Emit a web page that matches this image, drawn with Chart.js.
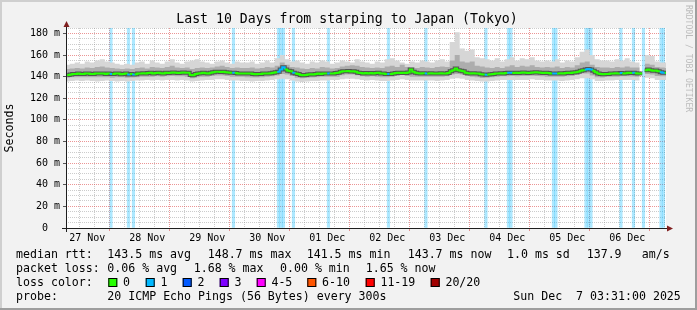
<!DOCTYPE html>
<html>
<head>
<meta charset="utf-8">
<script src="https://cdn.jsdelivr.net/npm/chart.js@4/dist/chart.umd.min.js"></script>
<style>
html, body { margin: 0; padding: 0; background: #f2f2f2; }
canvas { display: block; }
</style>
</head>
<body>
<canvas id="graph" width="697" height="310" style="width:697px;height:310px"></canvas>
<script>
// time axis: hours since 27 Nov 00:00, window 27 Nov 03:31 .. 07 Dec 03:31
const startHour = 3 + 31 / 60;
const endHour = startHour + 240;
const yMax = 185;
const dayLabels = ['27 Nov', '28 Nov', '29 Nov', '30 Nov', '01 Dec', '02 Dec', '03 Dec', '04 Dec', '05 Dec', '06 Dec'];

// median rtt (ms), hourly bins starting 27 Nov 04:00
const medianStart = 4;
const medianRtt = [
  141.5, 142.0, 142.5, 142.5, 142.8, 142.5, 142.5, 143.0, 142.8, 142.5, 142.5, 143.0, 142.8, 143.0, 143.0, 142.5, 142.8, 142.5, 142.5, 143.0, 142.8, 142.2, 142.5, 142.8,
  142.0, 142.5, 142.0, 142.3, 142.8, 143.0, 143.2, 143.0, 143.3, 143.5, 143.0, 143.3, 143.5, 143.2, 143.0, 143.5, 143.3, 143.5, 143.8, 143.5, 143.3, 143.5, 143.8, 143.5,
  143.5, 141.5, 141.3, 142.5, 143.0, 143.2, 143.5, 143.2, 143.0, 143.5, 144.0, 144.5, 144.5, 144.3, 144.5, 144.0, 143.8, 143.5, 143.5, 143.3, 143.0, 142.8, 143.0, 142.8,
  143.0, 142.8, 142.5, 142.3, 142.5, 142.5, 142.8, 143.0, 143.0, 143.2, 143.5, 144.0, 144.5, 146.5, 148.7, 146.5, 145.5, 145.0, 143.5, 143.0, 142.5, 141.5, 141.3, 141.5,
  142.0, 142.3, 142.0, 142.5, 142.8, 142.5, 142.8, 143.0, 143.0, 142.8, 143.0, 143.3, 143.5, 144.5, 145.0, 145.0, 145.3, 144.8, 145.0, 144.5, 143.5, 143.3, 143.0, 143.3,
  143.0, 143.3, 143.0, 143.3, 143.5, 143.0, 142.8, 142.5, 142.5, 142.5, 143.0, 143.3, 143.5, 143.3, 143.5, 143.3, 143.8, 146.5, 144.5, 143.5, 143.2, 143.0, 143.2, 142.8,
  143.0, 143.2, 143.0, 142.8, 143.0, 143.2, 143.0, 143.0, 143.3, 145.0, 146.0, 147.5, 146.0, 145.5, 145.0, 143.5, 143.2, 143.0, 143.2, 143.0, 142.8, 142.3, 142.0, 141.8,
  142.0, 142.2, 142.5, 142.8, 143.0, 143.2, 143.0, 143.3, 143.5, 143.5, 143.3, 143.5, 143.3, 143.5, 143.8, 143.5, 143.3, 143.5, 143.8, 144.0, 143.8, 143.5, 143.3, 143.5,
  143.3, 143.0, 143.0, 142.8, 143.0, 143.2, 143.0, 143.3, 143.5, 143.3, 143.8, 144.0, 144.5, 145.5, 146.0, 146.5, 147.0, 146.5, 145.5, 144.0, 143.0, 142.5, 142.3, 142.5,
  142.5, 142.8, 143.0, 143.2, 143.0, 143.3, 143.0, 143.2, 143.5, 143.3, 143.5, 143.2, 143.0, 142.8, null, 146.0, 146.5, 146.0, 145.5, 145.8, 145.0, 144.0, 143.5, 143.7
];
// hourly bins (index into medianRtt) with 1 of 20 pings lost
const lossBins = [17, 24, 26, 66, 84, 85, 86, 90, 104, 128, 143, 167, 176, 177, 194, 195, 207, 208, 209, 221, 226, 230, 237, 238];

// smoke (ping spread, ms), 2-hour bins starting 27 Nov 03:00
const smokeStart = 3;
const smokeMax = [
  151, 152, 153, 152, 154, 153, 155, 156, 154, 153, 152, 151,
  152, 151, 153, 154, 152, 155, 153, 152, 154, 156, 153, 152,
  154, 155, 156, 154, 153, 152, 154, 155, 153, 152, 154, 153,
  153, 154, 152, 153, 155, 153, 157, 160, 156, 154, 155, 153,
  152, 154, 153, 155, 154, 152, 153, 155, 154, 153, 156, 154,
  153, 152, 154, 153, 156, 157, 155, 153, 152, 154, 153, 155,
  154, 153, 155, 156, 154, 172, 181, 166, 164, 165, 158, 157,
  156, 155, 157, 154, 156, 158, 155, 157, 156, 158, 155, 154,
  155, 154, 156, 153, 155, 154, 158, 163, 165, 160, 156, 155,
  155, 154, 156, 155, 157, 154, 153, null, 160, 159, 154, 153,
  153
];
const smokeUp = [
  147, 147.5, 148, 147.5, 148.5, 148, 149, 149.5, 148.5, 148, 147.5, 147,
  147.5, 147, 148, 148.5, 147.5, 149, 148.5, 148, 149, 150, 148.5, 148,
  148.5, 147, 148, 148.5, 148, 148.5, 149.5, 150, 149, 148, 148.5, 148,
  148, 148.5, 147.5, 148, 149, 148.5, 150, 153, 151, 149, 148.5, 147.5,
  147, 148, 147.5, 149, 148.5, 147.5, 148, 149.5, 150, 150.5, 150, 149,
  148.5, 148, 148.5, 148, 149.5, 150, 149, 151, 149, 148.5, 148, 149,
  148.5, 148, 149, 149.5, 149, 155, 160, 154, 153, 154, 150, 149.5,
  148.5, 148, 149, 148, 149.5, 150.5, 149, 150, 149.5, 150.5, 149, 148.5,
  149, 148.5, 149.5, 148, 149, 148.5, 150.5, 153, 154, 151, 149, 148.5,
  148.5, 148, 149, 148.5, 149.5, 148.5, 148.5, null, 152, 151, 149, 148.5,
  148
];
const smokeDown = [
  139, 139.5, 139.5, 139.5, 139.5, 139.5, 139.5, 139.5, 139.5, 139, 139.5, 139.5,
  139, 139.3, 139.5, 140, 140, 140, 140.3, 140, 140.3, 140.5, 140.3, 140.3,
  139.8, 138.5, 139.5, 140, 140, 140.5, 141, 141, 140.5, 140, 139.8, 139.8,
  139.5, 139.3, 139.3, 139.5, 140, 140.3, 141, 142.5, 142, 140.5, 139, 138.5,
  139, 139.3, 139.5, 139.8, 140, 140, 140, 141.3, 142, 142, 141.3, 140.3,
  140, 140.3, 140, 139.5, 139.5, 140, 140.5, 141.5, 140.5, 140, 140, 139.8,
  140, 140, 139.8, 140, 140.3, 142, 142.5, 142, 140.5, 140, 139.5, 138.8,
  139, 139.5, 140, 140.3, 140.3, 140.5, 140.3, 140.5, 140.5, 140.8, 140.5, 140.3,
  140, 139.8, 140, 140, 140.3, 140.5, 141.5, 143, 143, 141, 139.5, 139.3,
  139.8, 140, 140, 140.3, 140.3, 140.2, 139.8, null, 142.5, 142, 140.5, 140.3,
  140.3
];
const smokeMin = [
  135.5, 136, 136.5, 136, 136.5, 136, 135.5, 136, 136.5, 136, 135.5, 136,
  135.5, 136, 136.5, 136.5, 137, 136.5, 137, 136.5, 137, 137, 136.5, 137,
  136.5, 135.5, 136, 136.5, 137, 137, 137.5, 137.5, 137, 136.5, 136.5, 136,
  136, 135.5, 136, 136, 136.5, 137, 137.5, 138, 137.5, 136.5, 135.5, 135,
  135.5, 136, 136, 136.5, 136.5, 137, 137, 137.5, 138, 138, 137.5, 137,
  136.5, 137, 136.5, 136, 136, 136.5, 137, 137.5, 137, 136.5, 136.5, 136.5,
  136.5, 136.5, 136, 136.5, 137, 138, 138.5, 138, 137, 136.5, 136, 135.5,
  135.5, 136, 136.5, 137, 137, 137, 137, 137, 137, 137.5, 137, 137,
  136.5, 136.5, 136.5, 136, 136.5, 137, 137.5, 138.5, 138.5, 137.5, 136, 136,
  136.5, 136.5, 137, 137, 137, 137, 136.5, null, 139, 138.5, 137, 137,
  137
];

const title = 'Last 10 Days from starping to Japan (Tokyo)';
const rttStats = ['143.5 ms avg', '148.7 ms max', '141.5 ms min', '143.7 ms now', '1.0 ms sd', '137.9', 'am/s'];
const lossStats = ['0.06 % avg', '1.68 % max', '0.00 % min', '1.65 % now'];
const lossColors = [['0', '#26ff00'], ['1', '#00b8ff'], ['2', '#0059ff'], ['3', '#7e00ff'], ['4-5', '#ff00ff'], ['6-10', '#ff5500'], ['11-19', '#ff0000'], ['20/20', '#a10000']];
const probeText = '20 ICMP Echo Pings (56 Bytes) every 300s';
const stampText = 'Sun Dec  7 03:31:00 2025';

const mono = '"DejaVu Sans Mono", monospace';
const minorGrid = 'rgba(143,143,143,0.45)';
const majorGrid = 'rgba(222,79,79,0.6)';
const lossSet = new Set(lossBins);

// rrdtool style staircase: every bin is flat over its whole width
const stepPoints = (vals, t0, w) => {
    const pts = [];
    vals.forEach((v, i) => {
        if (v === null) {
            pts.push({x: t0 + (i + 0.5) * w, y: null, bin: i});
            return;
        }
        pts.push({x: t0 + i * w, y: v, bin: i}, {x: t0 + (i + 1) * w, y: v, bin: i});
    });
    return pts;
};

const medianPts = stepPoints(medianRtt, medianStart, 1);
const lossBars = medianRtt.map((v, i) => ({x: medianStart + i + 0.5, y: lossSet.has(i) ? yMax : null}));
const sixHourTicks = [];
for (let h = 6; h <= endHour; h += 6) sixHourTicks.push(h);

const band = (vals, extra) => Object.assign({
    data: stepPoints(vals, smokeStart, 2),
    borderWidth: 0,
    borderColor: 'transparent',
    pointRadius: 0,
    fill: false
}, extra);

const decor = {
    id: 'decor',
    beforeDraw(chart) {
        const {ctx, width, height, chartArea: a} = chart;
        ctx.save();
        ctx.fillStyle = '#f2f2f2';
        ctx.fillRect(0, 0, width, height);
        ctx.fillStyle = '#cfcfcf';
        ctx.fillRect(0, 0, width, 2);
        ctx.fillRect(0, 0, 2, height);
        ctx.fillStyle = '#9e9e9e';
        ctx.fillRect(0, height - 2, width, 2);
        ctx.fillRect(width - 2, 0, 2, height);
        ctx.fillStyle = '#ffffff';
        ctx.fillRect(a.left, a.top, a.right - a.left, a.bottom - a.top);
        ctx.restore();
    },
    afterDraw(chart) {
        const {ctx, chartArea: a} = chart;
        ctx.save();
        // axes + arrows
        ctx.fillStyle = '#1f1f1f';
        ctx.fillRect(a.left, a.top - 3, 1, a.bottom - a.top + 7);
        ctx.fillRect(a.left - 4, a.bottom, a.right - a.left + 8, 1);
        ctx.fillStyle = '#801f1f';
        ctx.beginPath();
        ctx.moveTo(a.left + 0.5, a.top - 7);
        ctx.lineTo(a.left - 2.5, a.top - 1);
        ctx.lineTo(a.left + 3.5, a.top - 1);
        ctx.fill();
        ctx.beginPath();
        ctx.moveTo(a.right + 7, a.bottom + 0.5);
        ctx.lineTo(a.right + 1, a.bottom - 2.5);
        ctx.lineTo(a.right + 1, a.bottom + 3.5);
        ctx.fill();

        ctx.fillStyle = '#000';
        ctx.textBaseline = 'middle';
        ctx.textAlign = 'center';
        ctx.font = '13.2px ' + mono;
        ctx.fillText(title, 347, 19.5);

        ctx.save();
        ctx.font = '11.6px ' + mono;
        ctx.translate(10, 128);
        ctx.rotate(-Math.PI / 2);
        ctx.fillText('Seconds', 0, 0);
        ctx.restore();

        ctx.save();
        ctx.fillStyle = '#bcbcbc';
        ctx.font = '8.1px ' + mono;
        ctx.textAlign = 'left';
        ctx.translate(688, 5);
        ctx.rotate(Math.PI / 2);
        ctx.fillText('RRDTOOL / TOBI OETIKER', 0, 0);
        ctx.restore();

        ctx.textAlign = 'left';
        ctx.font = '11.6px ' + mono;
        ctx.fillText('median rtt:', 16, 254.5);
        [107.3, 207.7, 306.7, 407.7, 507, 586.7, 641.7].forEach((x, i) => ctx.fillText(rttStats[i], x, 254.5));
        ctx.fillText('packet loss:', 16, 268.5);
        [107.3, 193.7, 280, 365.7].forEach((x, i) => ctx.fillText(lossStats[i], x, 268.5));
        ctx.fillText('loss color:', 16, 282.5);
        [108.3, 145.7, 182.7, 219.7, 256.7, 307.3, 365.7, 430.7].forEach((x, i) => {
            const [label, col] = lossColors[i];
            ctx.fillStyle = col;
            ctx.fillRect(x, 278, 9, 9);
            ctx.strokeStyle = '#000';
            ctx.lineWidth = 1;
            ctx.strokeRect(x + 0.5, 278.5, 8, 8);
            ctx.fillStyle = '#000';
            ctx.fillText(label, x + 14.7, 282.5);
        });
        ctx.fillText('probe:', 16, 296.5);
        ctx.fillText(probeText, 107.3, 296.5);
        ctx.fillText(stampText, 513.3, 296.5);
        ctx.restore();
    }
};

new Chart(document.getElementById('graph'), {
    type: 'line',
    data: {
        datasets: [
            {
                type: 'bar',
                data: lossBars,
                backgroundColor: 'rgba(0,184,255,0.32)',
                borderWidth: 0,
                barPercentage: 1,
                categoryPercentage: 1,
                order: 9
            },
            band(smokeMax, {fill: 2, backgroundColor: '#d6d6d6', order: 8}),
            band(smokeMin, {order: 8}),
            band(smokeUp, {fill: 4, backgroundColor: '#adadad', order: 7}),
            band(smokeDown, {order: 7}),
            {
                data: medianPts,
                borderColor: 'rgba(60,60,60,0.8)',
                borderWidth: 4,
                pointRadius: 0,
                fill: false,
                order: 2
            },
            {
                data: medianPts,
                borderWidth: 2,
                pointRadius: 0,
                fill: false,
                borderColor: '#26ff00',
                segment: {
                    borderColor: c => lossSet.has(medianPts[c.p0DataIndex].bin) ? '#00b8ff' : '#26ff00'
                },
                order: 1
            }
        ]
    },
    options: {
        responsive: false,
        devicePixelRatio: 1,
        animation: false,
        events: [],
        layout: {padding: {left: 0, top: 28, right: 31, bottom: 0}},
        elements: {line: {tension: 0}, point: {radius: 0}},
        plugins: {legend: {display: false}, tooltip: {enabled: false}},
        scales: {
            x: {
                type: 'linear',
                min: startHour,
                max: endHour,
                offset: false,
                afterFit: s => { s.height = 82; },
                afterBuildTicks: s => { s.ticks = sixHourTicks.map(v => ({value: v})); },
                grid: {
                    color: c => c.tick && c.tick.value % 24 === 0 ? majorGrid : minorGrid,
                    lineWidth: 1,
                    tickLength: 3,
                    tickColor: c => c.tick && c.tick.value % 24 === 0 ? majorGrid : 'transparent'
                },
                border: {display: false, dash: [1, 1]},
                ticks: {
                    autoSkip: false,
                    maxRotation: 0,
                    padding: 1,
                    color: '#000',
                    font: {family: mono, size: 10},
                    callback: v => v % 24 === 12 ? dayLabels[(v - 12) / 24] : ''
                }
            },
            y: {
                min: 0,
                max: yMax,
                afterFit: s => { s.width = 66; },
                grid: {
                    color: c => c.tick && c.tick.value % 20 === 0 ? majorGrid : minorGrid,
                    lineWidth: 1,
                    tickLength: 3,
                    tickColor: c => c.tick && c.tick.value % 20 === 0 ? '#555' : 'transparent'
                },
                border: {display: false, dash: [1, 1]},
                ticks: {
                    stepSize: 5,
                    autoSkip: false,
                    padding: 3,
                    color: '#000',
                    font: {family: mono, size: 10},
                    callback: v => v % 20 ? '' : (v ? v + ' m' : '0  ')
                }
            }
        }
    },
    plugins: [decor]
});
</script>
</body>
</html>
